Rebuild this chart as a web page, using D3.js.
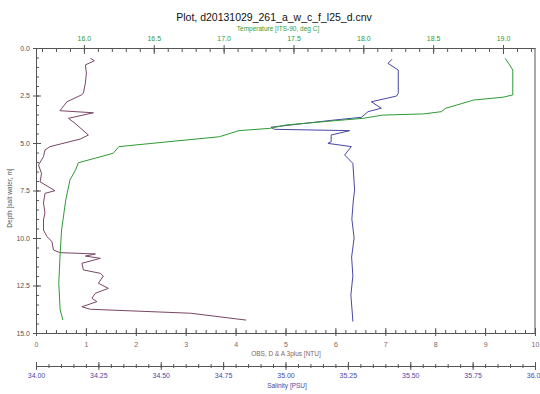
<!DOCTYPE html>
<html>
<head>
<meta charset="utf-8">
<script src="https://cdn.jsdelivr.net/npm/d3@7"></script>
<style>
  body { margin: 0; background: #fff; }
  svg { font-family: "Liberation Sans", Arial, sans-serif; }
  .axis path, .axis line { stroke: #555; }
</style>
</head>
<body>
<div id="chart"></div>
<script>
// depth [m] for each profile
var obsDepth = [0.54, 0.67, 0.89, 1.32, 1.84, 2.38, 2.47, 2.83, 3.30, 3.41, 3.70, 3.96, 4.58, 4.79, 5.19, 5.37,
  5.72, 6.16, 6.59, 6.95, 7.04, 7.51, 7.65, 8.16, 8.68, 9.05, 9.58, 9.93, 10.19, 10.63, 10.77, 10.84,
  10.95, 11.07, 11.33, 11.68, 11.86, 12.0, 12.38, 12.65, 12.91, 13.17, 13.35, 13.62, 13.75, 13.96, 14.32];
var obsValues = [1.09, 1.17, 0.99, 1.01, 0.99, 0.95, 0.91, 0.62, 0.48, 1.15, 0.65, 0.78, 1.05, 0.89, 0.28, 0.18,
  0.15, 0.05, 0.11, 0.09, 0.08, 0.38, 0.18, 0.15, 0.18, 0.15, 0.15, 0.22, 0.32, 0.35, 0.48, 1.19,
  0.99, 1.29, 0.92, 0.95, 1.29, 1.35, 1.25, 1.45, 1.19, 1.12, 1.22, 0.92, 1.09, 3.10, 4.21];

var tempDepth = [0.54, 0.81, 1.16, 2.47, 2.59, 2.74, 3.0, 3.17, 3.35, 3.47, 3.53, 3.70, 3.83, 4.05, 4.23, 4.35,
  4.67, 5.19, 5.54, 6.04, 6.42, 6.95, 8.0, 9.58, 10.81, 12.38, 13.79, 14.32];
var tempValues = [19.015, 19.04, 19.07, 19.07, 19.0, 18.79, 18.67, 18.59, 18.56, 18.43, 18.14, 18.0, 17.79, 17.45, 17.33, 17.11,
  16.97, 16.25, 16.21, 15.96, 15.94, 15.90, 15.87, 15.84, 15.83, 15.82, 15.83, 15.85];

var salDepth = [0.59, 0.81, 1.16, 2.38, 2.53, 2.83, 3.17, 3.35, 3.65, 3.79, 4.17, 4.28, 4.35, 4.58, 4.93, 5.02,
  5.19, 5.63, 6.07, 7.47, 8.0, 9.0, 10.0, 11.0, 12.0, 13.0, 14.0, 14.4];
var salValues = [35.427, 35.411, 35.452, 35.452, 35.445, 35.344, 35.384, 35.331, 35.304, 35.196, 34.942, 34.955, 35.257, 35.183, 35.183, 35.170,
  35.264, 35.237, 35.270, 35.277, 35.272, 35.266, 35.275, 35.265, 35.270, 35.262, 35.268, 35.270];

var depthTicks = [0, 2.5, 5, 7.5, 10, 12.5, 15];
var obsTicks = [0, 1, 2, 3, 4, 5, 6, 7, 8, 9, 10];
var tempTicks = [16.0, 16.5, 17.0, 17.5, 18.0, 18.5, 19.0];
var salTicks = [34.00, 34.25, 34.50, 34.75, 35.00, 35.25, 35.50, 35.75, 36.00];

var width = 540, height = 394;
var plotL = 36, plotR = 535, plotT = 48, plotB = 333;
var salY = 366;

var colObs = "#7a4668", colTemp = "#2f9a35", colSal = "#4848a8";

var svg = d3.select("#chart").append("svg")
  .attr("width", width)
  .attr("height", height);

var y = d3.scaleLinear().domain([0, 15]).range([plotT, plotB]);
var xObs = d3.scaleLinear().domain([0, 10]).range([plotL, plotR]);
var xTemp = d3.scaleLinear().domain([15.657, 19.229]).range([plotL, plotR]);
var xSal = d3.scaleLinear().domain([34, 36]).range([plotL, plotR]);

function steps(a, b, s) {
  var out = [];
  for (var v = a; v <= b + 1e-9; v += s) out.push(+v.toFixed(3));
  return out;
}

// minor + major ticks, lines placed by hand after the axis call
function addAxis(gen, pos, minor, major, fmt, color, minorTick, majorTick, pad, vertical) {
  var gMin = svg.append("g").attr("class", "axis").attr("transform", pos)
    .call(gen.tickValues(minor).tickFormat("").tickSize(0).tickSizeOuter(0));
  gMin.selectAll(".tick line").attr(vertical ? "x1" : "y1", minorTick[0]).attr(vertical ? "x2" : "y2", minorTick[1]);
  var gMaj = svg.append("g").attr("class", "axis").attr("transform", pos)
    .call(gen.tickValues(major).tickFormat(fmt).tickSize(0).tickPadding(pad).tickSizeOuter(0));
  gMaj.select(".domain").remove();
  gMaj.selectAll(".tick line").attr(vertical ? "x1" : "y1", majorTick[0]).attr(vertical ? "x2" : "y2", majorTick[1]);
  gMaj.selectAll("text").attr("fill", color).style("font-size", "7px");
  return gMaj;
}

// depth axis (left)
addAxis(d3.axisLeft(y), "translate(" + plotL + ",0)", steps(0, 15, 0.5), depthTicks,
  d3.format(".1f"), "#555", [0, 3], [-3, 5], 6, true);

// temperature axis (top)
addAxis(d3.axisTop(xTemp), "translate(0," + plotT + ")", steps(15.7, 19.2, 0.1), tempTicks,
  d3.format(".1f"), colTemp, [0, 4], [-3, 6], 7, false);

// OBS axis (bottom)
addAxis(d3.axisBottom(xObs), "translate(0," + plotB + ")", steps(0, 10, 0.2), obsTicks,
  d3.format("d"), "#806666", [-3, 0], [-5, 3], 9, false);

// salinity axis
addAxis(d3.axisBottom(xSal), "translate(0," + salY + ")", steps(34, 36, 0.05), salTicks,
  d3.format(".2f"), colSal, [-2, 2], [-4, 4], 7, false);

// right frame
svg.append("line")
  .attr("x1", plotR).attr("x2", plotR)
  .attr("y1", plotT).attr("y2", plotB)
  .attr("stroke", "#555");

// profiles
function profile(xs, ds, vs, color) {
  var pts = ds.map(function(d, i) { return [d, vs[i]]; });
  svg.append("path")
    .datum(pts)
    .attr("fill", "none")
    .attr("stroke", color)
    .attr("stroke-width", 1)
    .attr("d", d3.line()
      .x(function(p) { return xs(p[1]); })
      .y(function(p) { return y(p[0]); }));
}
profile(xObs, obsDepth, obsValues, colObs);
profile(xSal, salDepth, salValues, colSal);
profile(xTemp, tempDepth, tempValues, colTemp);

// titles
svg.append("text")
  .attr("x", 274).attr("y", 21)
  .attr("text-anchor", "middle")
  .style("font-size", "10.5px")
  .attr("fill", "#111")
  .text("Plot, d20131029_261_a_w_c_f_l25_d.cnv");

svg.append("text")
  .attr("x", 278).attr("y", 31)
  .attr("text-anchor", "middle")
  .style("font-size", "6.5px")
  .attr("fill", colTemp)
  .text("Temperature [ITS-90, deg C]");

svg.append("text")
  .attr("x", 286).attr("y", 356)
  .attr("text-anchor", "middle")
  .style("font-size", "6.5px")
  .attr("fill", "#806666")
  .text("OBS, D & A 3plus [NTU]");

svg.append("text")
  .attr("x", 287).attr("y", 388)
  .attr("text-anchor", "middle")
  .style("font-size", "6.5px")
  .attr("fill", colSal)
  .text("Salinity [PSU]");

svg.append("text")
  .attr("transform", "translate(12,198) rotate(-90)")
  .attr("text-anchor", "middle")
  .style("font-size", "6.5px")
  .attr("fill", "#555")
  .text("Depth [salt water, m]");
</script>
</body>
</html>
